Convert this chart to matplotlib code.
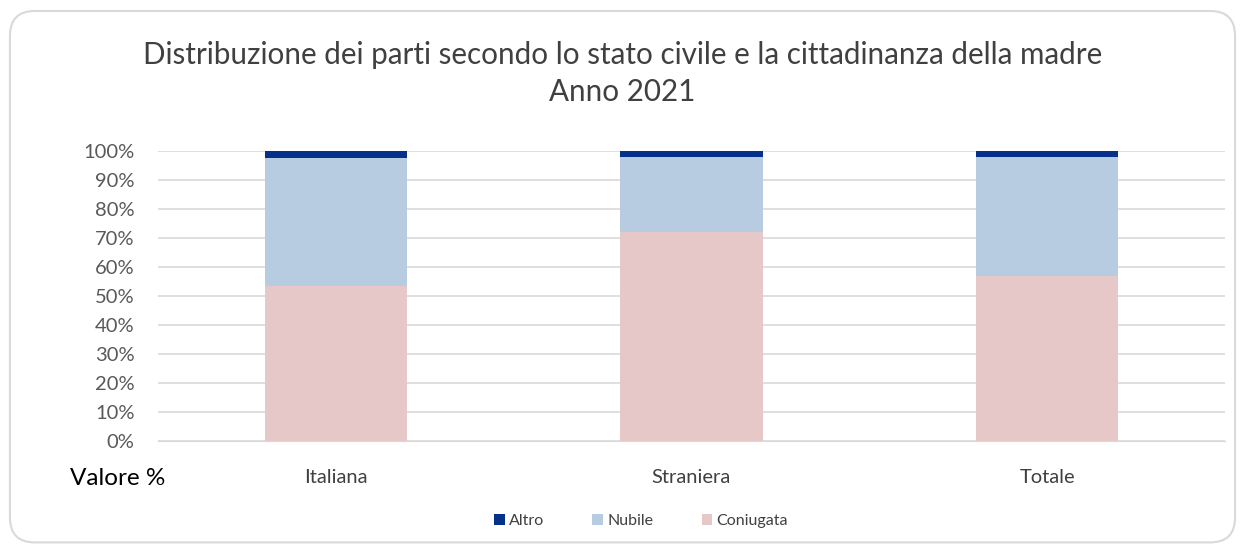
import numpy as np
import matplotlib
matplotlib.use('Agg')
from matplotlib import pyplot as plt
from matplotlib.patches import FancyBboxPatch
from matplotlib.ticker import PercentFormatter

categorie = ['Italiana', 'Straniera', 'Totale']
coniugata = [53.6, 72.1, 57.0]
nubile = [44.1, 25.9, 40.8]
altro = [2.3, 2.0, 2.2]

plt.rcParams['font.family'] = ['Lato', 'DejaVu Sans']

fig = plt.figure(figsize=(12.45, 5.49), dpi=100)

# cornice arrotondata come nel grafico di Excel
box = FancyBboxPatch((0.008, 0.012), 0.984, 0.968, boxstyle='round,pad=0,rounding_size=0.02',
                     transform=fig.transFigure, facecolor='white', edgecolor='#D9D9D9',
                     linewidth=1.5, mutation_aspect=1245 / 549, zorder=-1)
fig.patches.append(box)

ax = fig.add_axes([0.1269, 0.1967, 0.857, 0.5282])
ax.patch.set_alpha(0)

x = np.arange(len(categorie))
w = 0.4
c1 = np.array(coniugata)
c2 = c1 + np.array(nubile)
ax.bar(x, coniugata, w, color='#E6C8C9', label='Coniugata', zorder=3)
ax.bar(x, nubile, w, bottom=c1, color='#B7CBE1', label='Nubile', zorder=3)
ax.bar(x, altro, w, bottom=c2, color='#06318A', label='Altro', zorder=3)

ax.set_xlim(-0.5, 2.5)
ax.set_ylim(0, 100)
ax.set_yticks(np.arange(0, 101, 10))
ax.yaxis.set_major_formatter(PercentFormatter(decimals=0))
ax.grid(axis='y', color='#D9D9D9', linewidth=1.2, zorder=0)
for s in ax.spines.values():
    s.set_visible(False)
ax.spines['bottom'].set_visible(True)
ax.spines['bottom'].set_color('#D9D9D9')
ax.tick_params(axis='both', length=0, colors='#595959', labelsize=14.5)
ax.tick_params(axis='y', pad=17)
ax.tick_params(axis='x', pad=20)
ax.set_xticks(x)
ax.set_xticklabels(categorie, color='#404040')

fig.text(0.5, 0.9, 'Distribuzione dei parti secondo lo stato civile e la cittadinanza della madre',
         ha='center', va='center', fontsize=21.3, color='#404040')
fig.text(0.5, 0.832, 'Anno 2021', ha='center', va='center', fontsize=21.3, color='#404040')
fig.text(0.056, 0.128, 'Valore %', ha='left', va='center', fontsize=17.5, color='black')

h, l = ax.get_legend_handles_labels()
fig.legend(h[::-1], l[::-1], loc='center', bbox_to_anchor=(0.515, 0.051), ncol=3, frameon=False,
           fontsize=11.5, handlelength=0.65, handleheight=0.65, handletextpad=0.3,
           columnspacing=3.0, labelcolor='#404040')

fig.savefig('out.png', dpi=100)
